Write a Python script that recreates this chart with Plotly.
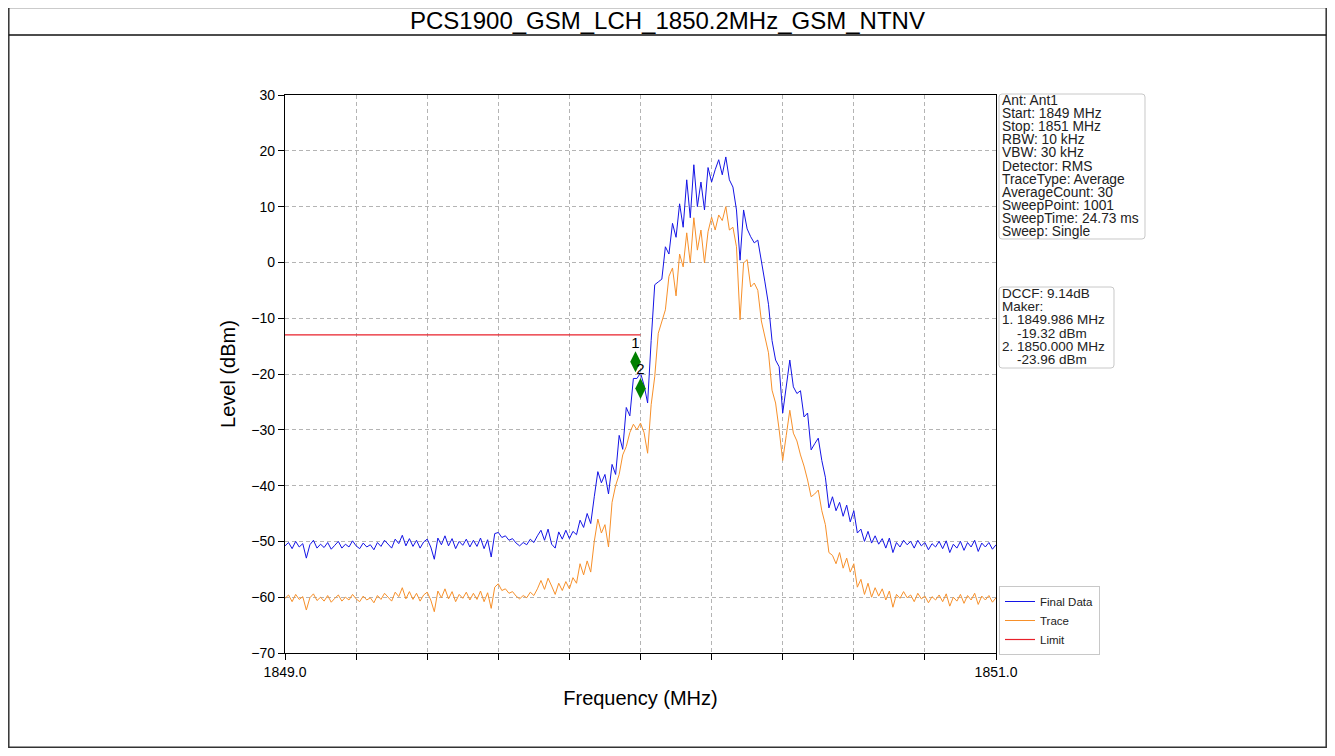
import plotly.graph_objects as go

# ---------------- data ----------------
freq_mhz = [round(1849.0 + 0.01 * i, 2) for i in range(201)]  # sweep grid 1849-1851 MHz

final_data = [
    -50.8, -50.2, -51.3, -50.0, -51.0, -50.4, -53.0, -50.6, -49.8, -51.2,
    -50.5, -51.1, -50.2, -51.4, -50.7, -50.0, -51.2, -50.5, -51.0, -49.9,
    -50.8, -51.3, -50.3, -51.0, -50.6, -51.5, -50.2, -50.9, -49.8, -50.6,
    -51.2, -49.6, -50.4, -48.9, -50.8, -49.5, -50.9, -49.8, -51.2, -50.1,
    -49.6, -51.0, -53.2, -49.4, -50.6, -49.0, -50.8, -49.5, -51.3, -50.0,
    -50.7, -49.6, -51.0, -49.8, -50.9, -49.4, -51.3, -49.7, -52.8, -48.6,
    -48.4, -49.3, -49.0, -49.8, -49.5, -50.3, -50.8, -50.2, -50.6, -49.6,
    -50.2, -49.0, -48.0, -49.8, -47.8, -50.5, -51.2, -48.3, -49.6, -48.0,
    -49.5, -48.2, -48.8, -46.2, -47.5, -45.0, -46.8, -42.0, -37.5, -39.5,
    -38.0, -41.5, -36.2, -38.0, -31.0, -33.5, -26.0, -27.5, -20.8, -20.8,
    -19.8, -22.0, -25.2, -14.0, -4.0, -3.5, -3.0, 2.8, 1.5, 7.0,
    4.5, 10.5, 6.3, 14.8, 8.0, 17.5, 10.0, 14.4, 9.4, 17.0,
    14.4, 16.6, 18.4, 15.7, 18.9, 14.8, 13.5, 9.4, 0.4, 9.4,
    6.0, 4.6, 3.5, 4.0, 0.5, -3.5, -7.5, -14.0, -17.5, -18.7,
    -27.0, -22.5, -17.5, -22.3, -23.5, -23.0, -27.7, -27.0, -33.6, -32.5,
    -31.5, -35.5, -38.5, -44.0, -42.0, -44.5, -43.0, -45.5, -43.5, -46.5,
    -44.5, -48.5, -47.8, -50.0, -48.2, -50.3, -49.0, -50.5, -49.5, -51.2,
    -49.4, -52.0, -50.2, -51.0, -49.8, -50.6, -50.0, -51.2, -49.8, -50.8,
    -50.2, -51.5, -50.4, -51.0, -50.0, -51.3, -49.9, -52.0, -50.5, -51.2,
    -50.0, -51.6, -50.2, -51.0, -49.8, -51.8, -50.3, -51.0, -50.2, -51.4,
    -50.6,
]

trace_data = [
    -60.2, -59.6, -60.8, -59.5, -60.4, -59.9, -62.3, -60.1, -59.4, -60.6,
    -60.0, -60.7, -59.7, -60.9, -60.2, -59.6, -60.7, -60.0, -60.5, -59.5,
    -60.3, -60.8, -59.8, -60.5, -60.1, -61.0, -59.7, -60.4, -59.3, -60.1,
    -60.7, -59.1, -59.9, -58.3, -60.3, -59.0, -60.4, -59.3, -60.7, -59.6,
    -59.1, -60.5, -62.6, -58.9, -60.1, -58.5, -60.3, -59.0, -60.8, -59.5,
    -60.2, -59.1, -60.5, -59.3, -60.4, -58.9, -60.8, -59.2, -62.0, -58.2,
    -57.6, -58.8, -58.5, -59.3, -59.0, -59.8, -60.3, -59.7, -60.1, -59.1,
    -59.7, -58.5, -57.0, -58.6, -56.6, -58.0, -59.5, -57.5, -58.8, -57.2,
    -58.5, -56.5, -57.5, -54.0, -56.0, -53.5, -55.5, -50.0, -46.0, -48.5,
    -47.0, -51.0, -43.0, -40.0, -38.0, -34.5, -33.0, -30.5, -29.0, -30.0,
    -28.8, -30.5, -34.2, -25.5, -20.5, -12.7, -10.5, -8.5, -2.5, -1.0,
    -6.0, 1.5, -0.8, 5.3, -0.1, 8.0, 2.2, 5.8, -0.1, 5.5,
    8.1, 5.8, 8.5, 7.5, 10.0, 5.8, 6.3, 2.8, -10.3, -0.1,
    0.5, -4.4, -3.7, -5.0, -10.5, -13.4, -16.2, -22.9, -25.2, -30.0,
    -35.5, -31.0, -26.5, -30.6, -32.0, -34.5, -36.5, -39.0, -42.0, -41.5,
    -40.8, -44.5, -47.0, -52.0, -52.5, -54.0, -52.0, -54.8, -53.0, -55.5,
    -54.0, -58.2, -56.8, -59.5, -57.5, -60.0, -58.3, -59.8, -58.5, -60.5,
    -58.9, -61.8, -59.5, -60.2, -59.0, -60.1, -59.6, -60.8, -59.3, -60.3,
    -59.8, -61.0, -59.9, -60.5, -59.6, -60.8, -59.4, -61.6, -60.0, -60.7,
    -59.5, -61.1, -59.7, -60.5, -59.3, -61.3, -59.8, -60.5, -59.7, -60.9,
    -60.1,
]

limit_freq = [1849.0, 1850.0]
limit_level = [-13.0, -13.0]

marker_freq = [1849.986, 1850.000]
marker_level = [-17.8, -22.6]
marker_labels = ["1", "2"]

x_tickvals = [1849.0, 1849.2, 1849.4, 1849.6, 1849.8, 1850.0, 1850.2, 1850.4, 1850.6, 1850.8, 1851.0]
x_ticktext = ["1849.0", "", "", "", "", "", "", "", "", "", "1851.0"]
y_tickvals = [-70, -60, -50, -40, -30, -20, -10, 0, 10, 20, 30]

title_text = "PCS1900_GSM_LCH_1850.2MHz_GSM_NTNV"
info_lines = [
    "Ant: Ant1", "Start: 1849 MHz", "Stop: 1851 MHz", "RBW: 10 kHz", "VBW: 30 kHz",
    "Detector: RMS", "TraceType: Average", "AverageCount: 30", "SweepPoint: 1001",
    "SweepTime: 24.73 ms", "Sweep: Single",
]
marker_lines = [
    "DCCF: 9.14dB", "Maker:", "1. 1849.986 MHz", "    -19.32 dBm",
    "2. 1850.000 MHz", "    -23.96 dBm",
]

# ---------------- layout helpers ----------------
# The page body has an 8px margin, so the figure itself starts at (8, 8) in the page.
OFF = 8
W, H = 1335 - 2 * OFF, 756 - 2 * OFF
P_L, P_R, P_T, P_B = 285, 996, 95, 653          # plot area, page pixels
ML, MT = P_L - OFF, P_T - OFF
MR, MB = W - (P_R - OFF), H - (P_B - OFF)
PW, PH = P_R - P_L, P_B - P_T
FONT = "Liberation Sans, Arial, sans-serif"


def px(x):
    return (x - P_L) / PW


def py(y):
    return (P_B - y) / PH


def rrect(x0, y0, x1, y1, r):
    pts = [
        ("M", x0 + r, y0), ("L", x1 - r, y0), ("Q", x1, y0, x1, y0 + r),
        ("L", x1, y1 - r), ("Q", x1, y1, x1 - r, y1), ("L", x0 + r, y1),
        ("Q", x0, y1, x0, y1 - r), ("L", x0, y0 + r), ("Q", x0, y0, x0 + r, y0),
    ]
    s = ""
    for p in pts:
        coords = p[1:]
        vals = [f"{px(coords[k]):.5f},{py(coords[k + 1]):.5f}" for k in range(0, len(coords), 2)]
        s += p[0] + " " + " ".join(vals) + " "
    return s + "Z"


fig = go.Figure()
fig.add_trace(go.Scatter(x=freq_mhz, y=final_data, mode="lines", name="Final Data",
                         line=dict(color="#1414e6", width=1)))
fig.add_trace(go.Scatter(x=freq_mhz, y=trace_data, mode="lines", name="Trace",
                         line=dict(color="#f7902a", width=1)))
fig.add_trace(go.Scatter(x=limit_freq, y=limit_level, mode="lines", name="Limit",
                         line=dict(color="#e8202a", width=1.2)))
fig.add_trace(go.Scatter(x=marker_freq, y=marker_level, mode="markers+text",
                         text=marker_labels, textposition="top center",
                         textfont=dict(size=15, color="black", family=FONT),
                         marker=dict(symbol="diamond-tall", size=15, color="#008000"),
                         showlegend=False))

shapes = [
    dict(type="rect", xref="paper", yref="paper", x0=px(8.8), x1=px(1326.2), y0=py(747.2), y1=py(7.5),
         line=dict(color="#333333", width=1.5), layer="below"),
    dict(type="line", xref="paper", yref="paper", x0=px(8.8), x1=px(1326.2), y0=py(35), y1=py(35),
         line=dict(color="#111111", width=1.5)),
    dict(type="path", xref="paper", yref="paper", path=rrect(999, 94, 1145, 239, 3),
         line=dict(color="#c8c8c8", width=1), fillcolor="white"),
    dict(type="path", xref="paper", yref="paper", path=rrect(999, 287, 1114, 368, 3),
         line=dict(color="#c8c8c8", width=1), fillcolor="white"),
]

annotations = [
    dict(text=title_text, xref="paper", yref="paper", x=px(667.5), y=py(21),
         xanchor="center", yanchor="middle", showarrow=False,
         font=dict(size=24, color="black", family=FONT)),
]
for k, line in enumerate(info_lines):
    annotations.append(dict(text=line, xref="paper", yref="paper", x=px(999.5), y=py(100.5 + 13.1 * k),
                            xanchor="left", yanchor="middle", showarrow=False,
                            font=dict(size=13.8, color="#222222", family=FONT)))
for k, line in enumerate(marker_lines):
    annotations.append(dict(text=line.replace(" ", "&nbsp;") if line.startswith(" ") else line,
                            xref="paper", yref="paper", x=px(999.5), y=py(293.5 + 13.2 * k),
                            xanchor="left", yanchor="middle", showarrow=False,
                            font=dict(size=13.5, color="#222222", family=FONT)))

fig.update_layout(
    width=W, height=H,
    margin=dict(l=ML, r=MR, t=MT, b=MB, autoexpand=False),
    paper_bgcolor="white", plot_bgcolor="white",
    font=dict(family=FONT, color="black"),
    shapes=shapes, annotations=annotations,
    showlegend=True,
    legend=dict(x=px(999), y=py(655), xanchor="left", yanchor="bottom",
                bgcolor="white", bordercolor="#c8c8c8", borderwidth=1,
                font=dict(size=11.5, color="#222222", family=FONT),
                tracegroupgap=0, itemwidth=30),
)
fig.update_xaxes(range=[1849.0, 1851.0], tickvals=x_tickvals, ticktext=x_ticktext,
                 showgrid=True, gridcolor="#b4b4b4", griddash="4px,3px", gridwidth=1,
                 ticks="outside", ticklen=6, tickwidth=1.2, tickcolor="black",
                 showline=True, linecolor="black", linewidth=1.3, mirror=True,
                 tickfont=dict(size=14, color="black"), zeroline=False,
                 title=dict(text="Frequency (MHz)", font=dict(size=20, color="black"), standoff=12))
fig.update_yaxes(range=[-70, 30], tickvals=y_tickvals,
                 showgrid=True, gridcolor="#b4b4b4", griddash="4px,3px", gridwidth=1,
                 ticks="outside", ticklen=6, tickwidth=1.2, tickcolor="black",
                 showline=True, linecolor="black", linewidth=1.3, mirror=True,
                 tickfont=dict(size=14, color="black"), zeroline=False,
                 title=dict(text="Level (dBm)", font=dict(size=20, color="black"), standoff=10))

fig.write_html("out.html")
